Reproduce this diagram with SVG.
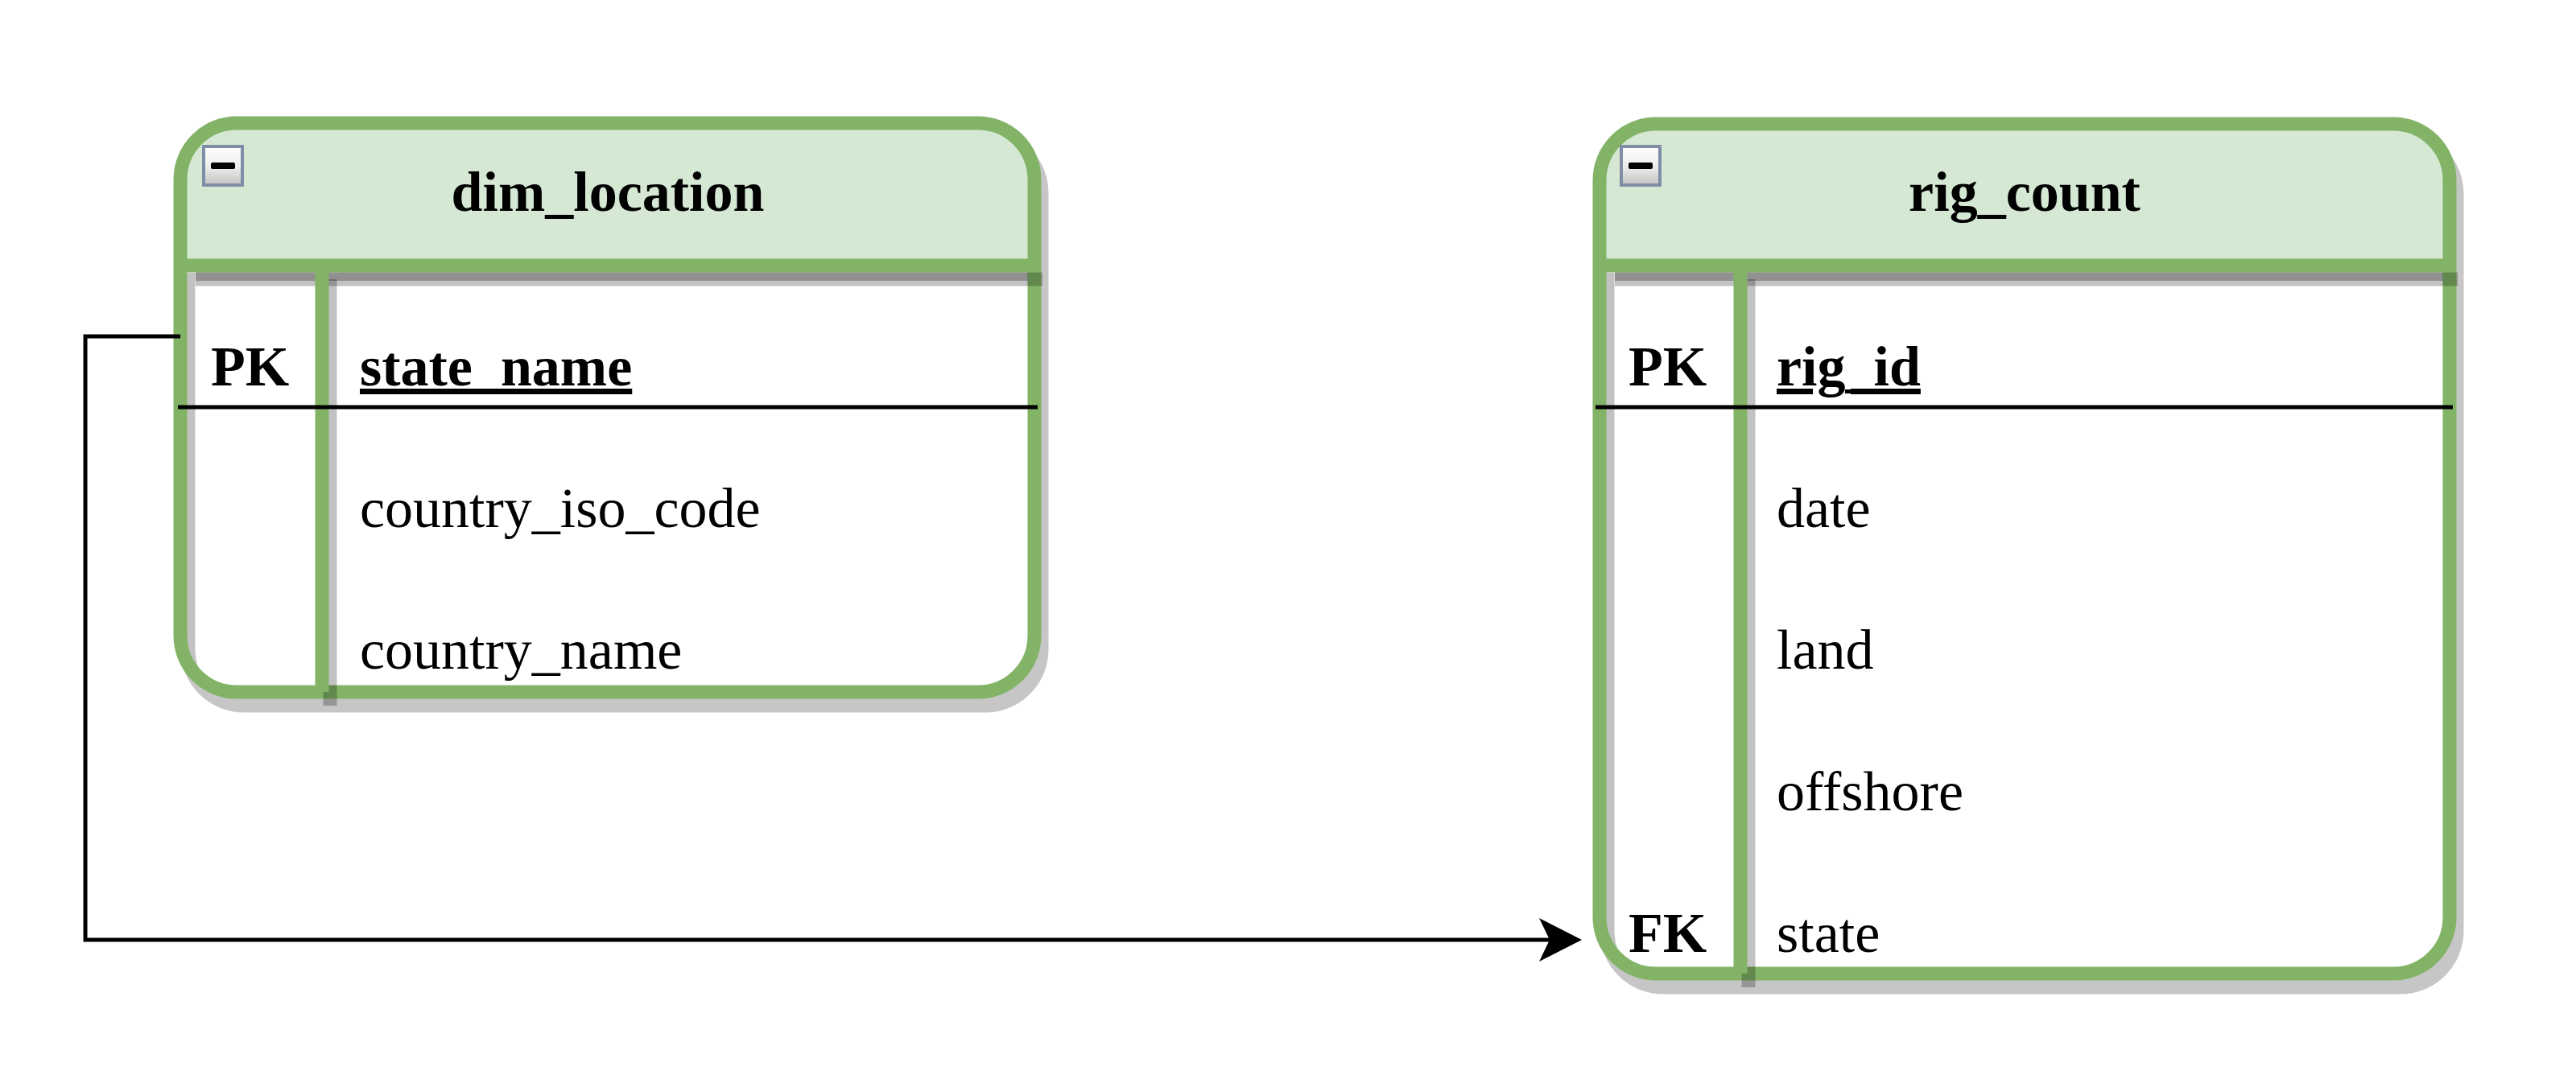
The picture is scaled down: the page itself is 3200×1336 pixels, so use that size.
<svg xmlns="http://www.w3.org/2000/svg" width="3200" height="1336" viewBox="0 0 3200 1336">
<defs>
<linearGradient id="btn" x1="0" y1="0" x2="0" y2="1">
<stop offset="0" stop-color="#ffffff"/>
<stop offset="0.5" stop-color="#eeeeee"/>
<stop offset="1" stop-color="#c4c4c4"/>
</linearGradient>
<clipPath id="clipDim"><path d="M224,330 H1285 V790 A70,70 0 0 1 1215,860 H294 A70,70 0 0 1 224,790 Z"/></clipPath>
<clipPath id="clipRig"><path d="M1987,330 H3043 V1140 A70,70 0 0 1 2973,1210 H2057 A70,70 0 0 1 1987,1140 Z"/></clipPath>
<marker id="arrow" viewBox="0 0 53 54" refX="33" refY="27" markerWidth="53" markerHeight="54" markerUnits="userSpaceOnUse" orient="auto">
<path d="M53,27 L0,0 L13,27 L0,54 Z" fill="#000"/>
</marker>
<style>
.outshadow{fill:#000;stroke:#000;stroke-width:17;opacity:0.22}
.body{fill:#ffffff}
.head{fill:#d5e8d4}
.frame{fill:none;stroke:#82b366;stroke-width:17}
.gline{stroke:#82b366;stroke-width:17;fill:none}
.ishadow{stroke:#000;stroke-width:17;opacity:0.24;fill:none}
.ishadow2{fill:#000;opacity:0.25}
.rowsep{stroke:#000;stroke-width:5}
.btnbox{fill:url(#btn);stroke:#7f8ea6;stroke-width:4}
.btnbar{fill:#000}
.t{font-family:"Liberation Serif","Times New Roman",serif;font-size:70px;fill:#000}
.b{font-weight:bold}
.u{text-decoration:underline}
.title{font-weight:bold;text-anchor:middle}
.conn{fill:none;stroke:#000;stroke-width:5}
</style>
</defs>
<rect width="3200" height="1336" fill="#ffffff"/>

<g id="dim_location">
<rect class="outshadow" x="233" y="170" width="1061" height="707" rx="70" ry="70"/>
<rect class="body" x="224" y="153" width="1061" height="707" rx="70" ry="70"/>
<path class="head" d="M224,330 V223 A70,70 0 0 1 294,153 H1215 A70,70 0 0 1 1285,223 V330 Z"/>
<path class="ishadow" clip-path="url(#clipDim)" d="M234,339 V807 A70,70 0 0 0 304,877 H1300"/>
<rect class="frame" x="224" y="153" width="1061" height="707" rx="70" ry="70"/>
<line class="ishadow" x1="243" y1="347" x2="1295" y2="347"/>
<rect class="ishadow2" x="243" y="338" width="1034" height="11"/>
<line class="ishadow" x1="410" y1="347" x2="410" y2="877"/>
<line class="gline" x1="224" y1="330" x2="1285" y2="330"/>
<line class="gline" x1="400" y1="330" x2="400" y2="860"/>
<line class="rowsep" x1="221" y1="506" x2="1289" y2="506"/>
<rect class="btnbox" x="253" y="182" width="48" height="48"/>
<rect class="btnbar" x="262" y="202" width="30" height="8" rx="2"/>
<text class="t title" x="755" y="262">dim_location</text>
<text class="t b" x="262" y="479">PK</text>
<text class="t b u" x="447" y="479">state_name</text>
<text class="t" x="447" y="655">country_iso_code</text>
<text class="t" x="447" y="831">country_name</text>
</g>

<g id="rig_count">
<rect class="outshadow" x="1996" y="171" width="1056" height="1056" rx="70" ry="70"/>
<rect class="body" x="1987" y="154" width="1056" height="1056" rx="70" ry="70"/>
<path class="head" d="M1987,330 V224 A70,70 0 0 1 2057,154 H2973 A70,70 0 0 1 3043,224 V330 Z"/>
<path class="ishadow" clip-path="url(#clipRig)" d="M1997,339 V1157 A70,70 0 0 0 2067,1227 H3060"/>
<rect class="frame" x="1987" y="154" width="1056" height="1056" rx="70" ry="70"/>
<line class="ishadow" x1="2006" y1="347" x2="3053" y2="347"/>
<rect class="ishadow2" x="2006" y="338" width="1029" height="11"/>
<line class="ishadow" x1="2172" y1="347" x2="2172" y2="1227"/>
<line class="gline" x1="1987" y1="330" x2="3043" y2="330"/>
<line class="gline" x1="2162" y1="330" x2="2162" y2="1210"/>
<line class="rowsep" x1="1982" y1="506" x2="3047" y2="506"/>
<rect class="btnbox" x="2014" y="182" width="48" height="48"/>
<rect class="btnbar" x="2023" y="202" width="30" height="8" rx="2"/>
<text class="t title" x="2515" y="262">rig_count</text>
<text class="t b" x="2023" y="479">PK</text>
<text class="t b u" x="2207" y="479">rig_id</text>
<text class="t" x="2207" y="655">date</text>
<text class="t" x="2207" y="831">land</text>
<text class="t" x="2207" y="1007">offshore</text>
<text class="t b" x="2023" y="1183">FK</text>
<text class="t" x="2207" y="1183">state</text>
</g>

<g id="connectors">
<path class="conn" d="M224,418 H106 V1168 H1945" marker-end="url(#arrow)"/>
</g>
</svg>
